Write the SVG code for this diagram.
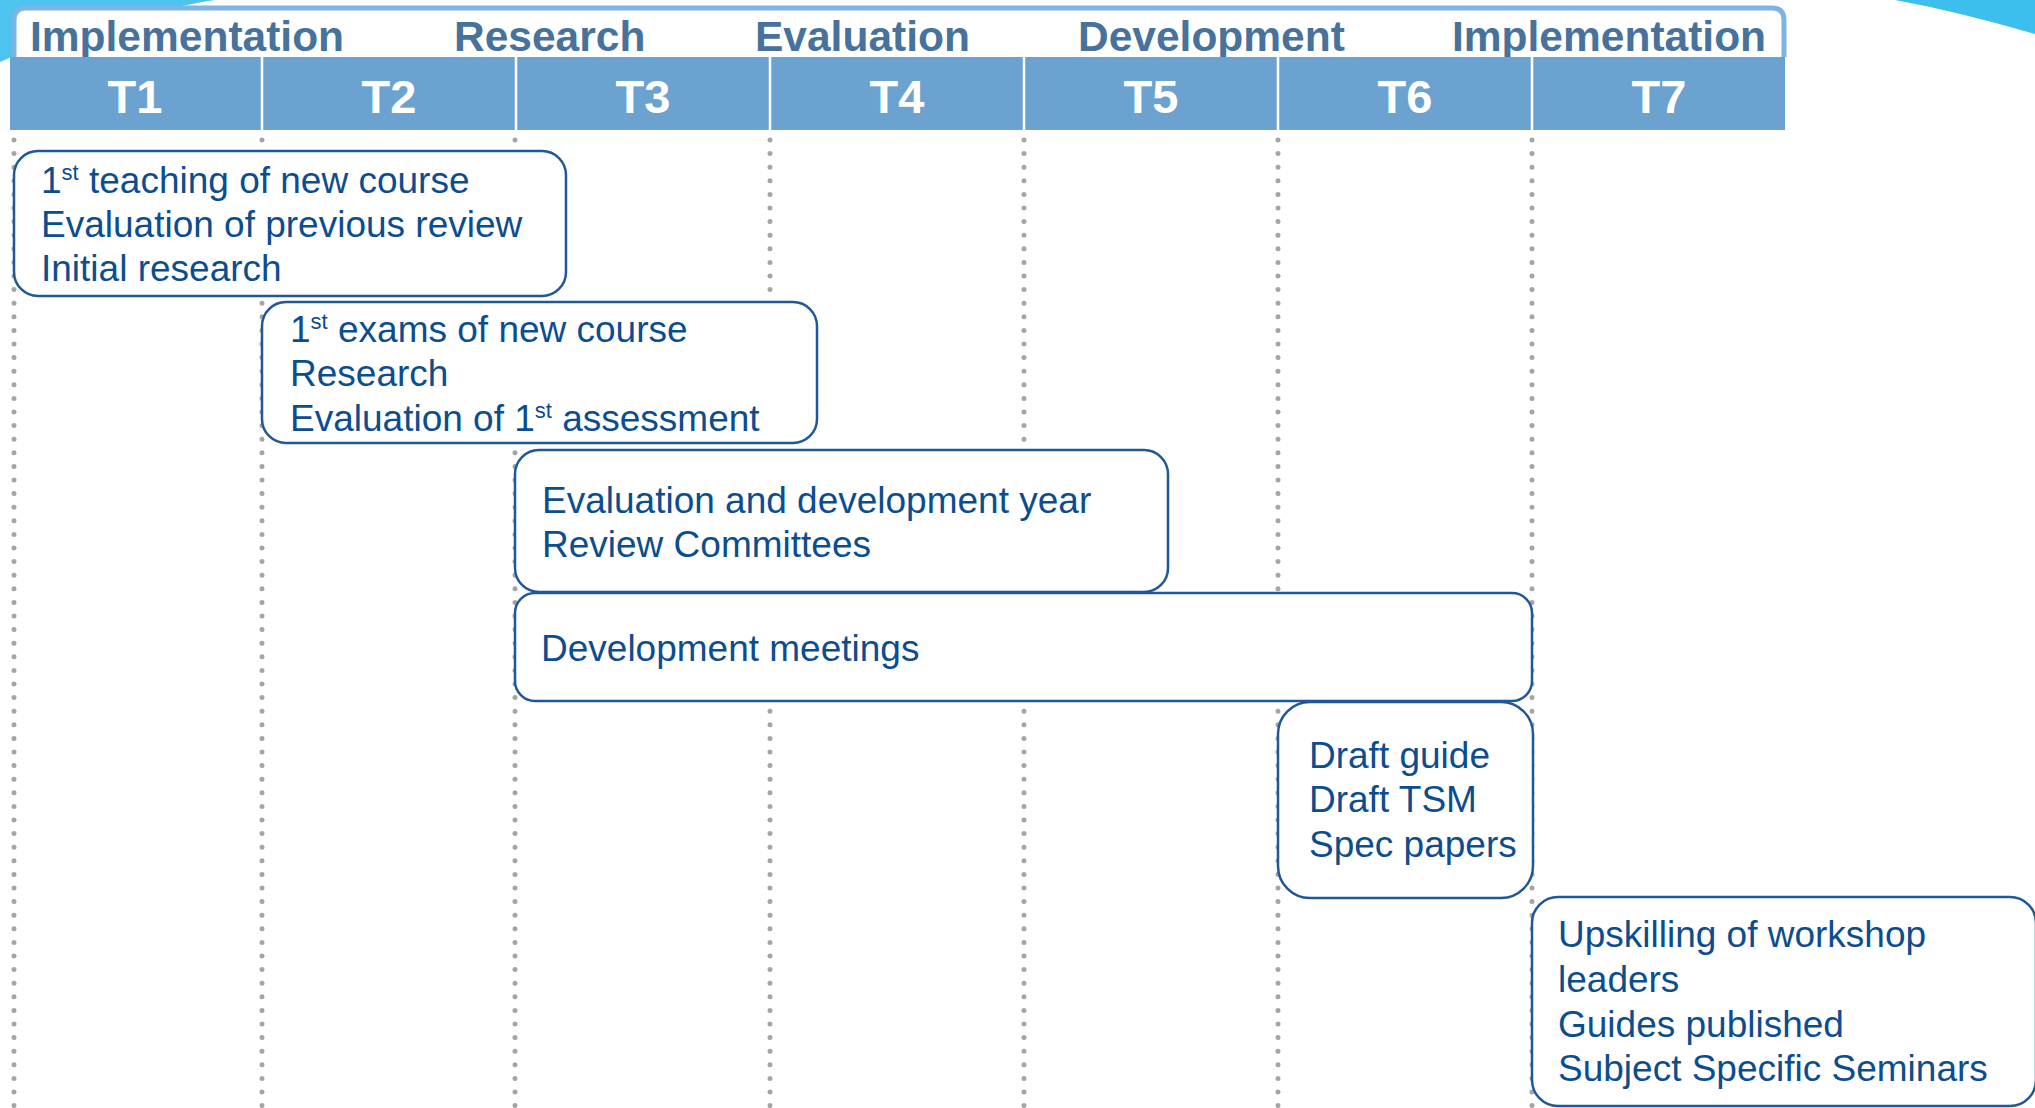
<svg xmlns="http://www.w3.org/2000/svg" width="2035" height="1108" viewBox="0 0 2035 1108">
  <style>
    .phase { font-family: "Liberation Sans", Arial, sans-serif; font-weight: bold; font-size: 42.5px; fill: #47729c; }
    .term { font-family: "Liberation Sans", Arial, sans-serif; font-weight: bold; font-size: 47px; fill: #ffffff; text-anchor: middle; }
    .box { fill: #ffffff; stroke: #1f5797; stroke-width: 2.5; }
    .lbl { font-family: "Liberation Sans", Arial, sans-serif; font-size: 37px; fill: #0c4d8f; }
    .sup { font-size: 22px; }
    .guide { stroke: #a5a5a5; stroke-width: 5; stroke-linecap: round; stroke-dasharray: 0 13.6; fill: none; }
    .divider { stroke: #ffffff; stroke-width: 2.5; }
  </style>

  <rect x="0" y="0" width="2035" height="1108" fill="#ffffff"/>

  <!-- decorative swooshes in the top corners -->
  <path d="M0,0 L215,0 C150,10 60,35 0,62 Z" fill="#4cc4ef"/>
  <path d="M1895,0 L2035,0 L2035,34 Q1960,12 1895,0 Z" fill="#3cbfec"/>

  <!-- header frame with phase names -->
  <g id="header">
    <path d="M14,57 L14,20 Q14,8 26,8 L1772,8 Q1784,8 1784,20 L1784,57" fill="#ffffff" stroke="#7db4e4" stroke-width="5"/>
    <text class="phase" x="30" y="51">Implementation</text>
    <text class="phase" x="454" y="51">Research</text>
    <text class="phase" x="755" y="51">Evaluation</text>
    <text class="phase" x="1078" y="51">Development</text>
    <text class="phase" x="1452" y="51">Implementation</text>
  </g>

  <!-- term band -->
  <g id="terms">
    <rect x="10" y="57" width="1775" height="73" fill="#6ca2d0"/>
    <line class="divider" x1="262" y1="57" x2="262" y2="130"/>
    <line class="divider" x1="516" y1="57" x2="516" y2="130"/>
    <line class="divider" x1="770" y1="57" x2="770" y2="130"/>
    <line class="divider" x1="1024" y1="57" x2="1024" y2="130"/>
    <line class="divider" x1="1278" y1="57" x2="1278" y2="130"/>
    <line class="divider" x1="1532" y1="57" x2="1532" y2="130"/>
    <text class="term" x="135" y="113">T1</text>
    <text class="term" x="389" y="113">T2</text>
    <text class="term" x="643" y="113">T3</text>
    <text class="term" x="897" y="113">T4</text>
    <text class="term" x="1151" y="113">T5</text>
    <text class="term" x="1405" y="113">T6</text>
    <text class="term" x="1659" y="113">T7</text>
  </g>

  <!-- dotted term boundaries -->
  <g id="connectors">
    <line class="guide" x1="14" y1="140" x2="14" y2="1108"/>
    <line class="guide" x1="262" y1="140" x2="262" y2="1108"/>
    <line class="guide" x1="515" y1="140" x2="515" y2="1108"/>
    <line class="guide" x1="770" y1="140" x2="770" y2="1108"/>
    <line class="guide" x1="1024" y1="140" x2="1024" y2="1108"/>
    <line class="guide" x1="1278" y1="140" x2="1278" y2="1108"/>
    <line class="guide" x1="1532" y1="140" x2="1532" y2="1108"/>
  </g>

  <g id="task-teaching">
    <rect class="box" x="14" y="151" width="552" height="145" rx="24"/>
    <text class="lbl" x="41" y="193">1<tspan class="sup" dy="-13">st</tspan><tspan dy="13"> teaching of new course</tspan></text>
    <text class="lbl" x="41" y="237">Evaluation of previous review</text>
    <text class="lbl" x="41" y="281">Initial research</text>
  </g>

  <g id="task-exams">
    <rect class="box" x="262" y="302" width="555" height="141" rx="24"/>
    <text class="lbl" x="290" y="342">1<tspan class="sup" dy="-13">st</tspan><tspan dy="13"> exams of new course</tspan></text>
    <text class="lbl" x="290" y="386">Research</text>
    <text class="lbl" x="290" y="431">Evaluation of 1<tspan class="sup" dy="-13">st</tspan><tspan dy="13"> assessment</tspan></text>
  </g>

  <g id="task-evaluation-year">
    <rect class="box" x="515" y="450" width="653" height="142" rx="24"/>
    <text class="lbl" x="542" y="513">Evaluation and development year</text>
    <text class="lbl" x="542" y="557">Review Committees</text>
  </g>

  <g id="task-development-meetings">
    <rect class="box" x="515" y="593" width="1017" height="108" rx="20"/>
    <text class="lbl" x="541" y="661">Development meetings</text>
  </g>

  <g id="task-drafts">
    <rect class="box" x="1278" y="702" width="255" height="196" rx="32"/>
    <text class="lbl" x="1309" y="768">Draft guide</text>
    <text class="lbl" x="1309" y="812">Draft TSM</text>
    <text class="lbl" x="1309" y="857">Spec papers</text>
  </g>

  <g id="task-publication">
    <rect class="box" x="1532" y="897" width="504" height="209" rx="26"/>
    <text class="lbl" x="1558" y="947">Upskilling of workshop</text>
    <text class="lbl" x="1558" y="992">leaders</text>
    <text class="lbl" x="1558" y="1037">Guides published</text>
    <text class="lbl" x="1558" y="1081">Subject Specific Seminars</text>
  </g>
</svg>
